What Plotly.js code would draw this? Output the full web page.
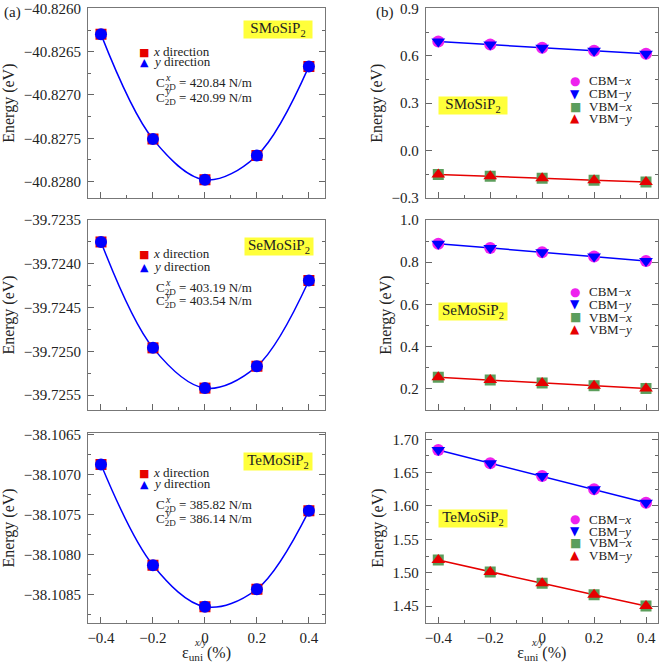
<!DOCTYPE html>
<html><head><meta charset="utf-8">
<script src="https://cdn.plot.ly/plotly-3.0.1.min.js"></script>
<style>html,body{margin:0;padding:0;background:#fff}</style>
</head><body><div id="chart" style="width:661px;height:663px"></div>
<script>
// ---------------- data ----------------
const strain = [-0.4, -0.2, 0, 0.2, 0.4];
const materials = ['SMoSiP<sub>2</sub>', 'SeMoSiP<sub>2</sub>', 'TeMoSiP<sub>2</sub>'];
// (a) total energy vs strain
const S_Ex  = [-40.82630, -40.82751, -40.82798, -40.82770, -40.82667];
const S_Ey  = [-40.82630, -40.82751, -40.82798, -40.82770, -40.82667];
const Se_Ex = [-39.72375, -39.72496, -39.72542, -39.72517, -39.72419];
const Se_Ey = [-39.72375, -39.72496, -39.72542, -39.72517, -39.72419];
const Te_Ex = [-38.10687, -38.10813, -38.10865, -38.10843, -38.10745];
const Te_Ey = [-38.10687, -38.10813, -38.10865, -38.10843, -38.10745];
const c2dX = ['420.84', '403.19', '385.82'];
const c2dY = ['420.99', '403.54', '386.14'];
// (b) band edges vs strain
const S_CBMx  = [0.690, 0.671, 0.651, 0.631, 0.612];
const S_CBMy  = [0.690, 0.671, 0.651, 0.631, 0.612];
const S_VBMx  = [-0.152, -0.162, -0.175, -0.187, -0.199];
const S_VBMy  = [-0.152, -0.162, -0.175, -0.187, -0.199];
const Se_CBMx = [0.888, 0.867, 0.847, 0.827, 0.806];
const Se_CBMy = [0.888, 0.867, 0.847, 0.827, 0.806];
const Se_VBMx = [0.255, 0.242, 0.228, 0.215, 0.202];
const Se_VBMy = [0.255, 0.242, 0.228, 0.215, 0.202];
const Te_CBMx = [1.684, 1.664, 1.645, 1.625, 1.605];
const Te_CBMy = [1.684, 1.664, 1.645, 1.625, 1.605];
const Te_VBMx = [1.519, 1.501, 1.484, 1.467, 1.450];
const Te_VBMy = [1.519, 1.501, 1.484, 1.467, 1.450];
const legendA = ['<i>x</i> direction', '<i>y</i> direction'];
const legendB = ['CBM\u2212<i>x</i>', 'CBM\u2212<i>y</i>', 'VBM\u2212<i>x</i>', 'VBM\u2212<i>y</i>'];

// ---------------- layout helpers ----------------
const FF = "'Liberation Serif'";
const W = 661, H = 663;
const px = x => x / W, py = y => 1 - y / H;
const colX = [[88, 325], [425.7, 658]];
const rows = [[8.3, 198], [220, 410], [433.3, 622.7]];
const xRanges = [[-0.45, 0.462], [-0.4485, 0.4462]];
const yRanges = [
  [[-40.82819, -40.825999], [-0.3, 0.9]],
  [[-39.72567, -39.723499], [0.1, 1.0]],
  [[-38.10885, -38.10648], [1.425, 1.709]]
];
const yTicks = [[[0.0005, 0.00025, '.4f'], [0.3, 0.15, '.1f']],
                [[0.0005, 0.00025, '.4f'], [0.2, 0.1, '.1f']],
                [[0.0005, 0.00025, '.4f'], [0.05, 0.025, '.2f']]];
const aData = [[S_Ex, S_Ey], [Se_Ex, Se_Ey], [Te_Ex, Te_Ey]];
const bData = [[S_CBMx, S_CBMy, S_VBMx, S_VBMy], [Se_CBMx, Se_CBMy, Se_VBMx, Se_VBMy], [Te_CBMx, Te_CBMy, Te_VBMx, Te_VBMy]];

const BLUE = '#0000ff', RED = '#e60000', MAG = '#ee22ee', GREEN = '#5c9e5c';
const traces = [];
const layout = {
  width: W, height: H, margin: {l: 0, r: 0, t: 0, b: 0},
  paper_bgcolor: '#fff', plot_bgcolor: '#fff', showlegend: false,
  font: {family: FF, size: 15, color: '#222'},
  annotations: []
};
const axName = n => (n > 1 ? String(n) : '');

for (let r = 0; r < 3; r++) {
  for (let c = 0; c < 2; c++) {
    const n = r * 2 + c + 1;
    const xa = 'x' + axName(n), ya = 'y' + axName(n);
    const tk = yTicks[r][c];
    layout['xaxis' + axName(n)] = {
      domain: [px(colX[c][0]), px(colX[c][1])], anchor: ya, range: xRanges[c],
      showgrid: false, zeroline: false, mirror: true, showline: true, linecolor: '#777', linewidth: 1,
      ticks: 'inside', ticklen: 6, tickcolor: '#666', tickwidth: 1, dtick: 0.2, tick0: 0,
      minor: {dtick: 0.1, ticks: 'inside', ticklen: 3, tickcolor: '#666'},
      showticklabels: r === 2, tickfont: {family: FF, size: 15, color: '#222'}, ticklabelstandoff: 1,
      title: r === 2 ? {text: '\u03b5<sub>uni</sub> (%)', font: {family: FF, size: 16, color: '#222'}, standoff: 0} : undefined
    };
    layout['yaxis' + axName(n)] = {
      domain: [py(rows[r][1]), py(rows[r][0])], anchor: xa, range: yRanges[r][c],
      showgrid: false, zeroline: false, mirror: 'ticks', showline: true, linecolor: '#777', linewidth: 1,
      ticks: 'inside', ticklen: 6, tickcolor: '#666', tickwidth: 1, dtick: tk[0], tick0: 0, tickformat: tk[2],
      minor: {dtick: tk[1], ticks: 'inside', ticklen: 3, tickcolor: '#666'},
      tickfont: {family: FF, size: 15, color: '#222'}, ticklabelstandoff: 3,
      title: {text: 'Energy (eV)', font: {family: FF, size: 16, color: '#222'}, standoff: c === 0 ? 6 : 4}
    };
    if (c === 0) {
      const [ex, ey] = aData[r];
      traces.push({x: strain, y: ex, xaxis: xa, yaxis: ya, mode: 'lines', line: {shape: 'spline', smoothing: 1, color: BLUE, width: 1.5}, hoverinfo: 'skip'});
      traces.push({x: strain, y: ex, xaxis: xa, yaxis: ya, mode: 'markers', name: legendA[0], marker: {symbol: 'square', size: 11, color: RED}});
      traces.push({x: strain, y: ey, xaxis: xa, yaxis: ya, mode: 'markers', name: legendA[1], marker: {symbol: 'circle', size: 12, color: BLUE}});
    } else {
      const [cx, cy, vx, vy] = bData[r];
      traces.push({x: strain, y: cx, xaxis: xa, yaxis: ya, mode: 'lines', line: {color: BLUE, width: 1.5}, hoverinfo: 'skip'});
      traces.push({x: strain, y: vx, xaxis: xa, yaxis: ya, mode: 'lines', line: {color: RED, width: 1.5}, hoverinfo: 'skip'});
      traces.push({x: strain, y: cx, xaxis: xa, yaxis: ya, mode: 'markers', name: legendB[0], marker: {symbol: 'circle', size: 12, color: MAG}});
      traces.push({x: strain, y: cy, xaxis: xa, yaxis: ya, mode: 'markers', name: legendB[1], marker: {symbol: 'triangle-down', size: 12, color: BLUE}});
      traces.push({x: strain, y: vx, xaxis: xa, yaxis: ya, mode: 'markers', name: legendB[2], marker: {symbol: 'square', size: 11, color: GREEN}});
      traces.push({x: strain, y: vy, xaxis: xa, yaxis: ya, mode: 'markers', name: legendB[3], marker: {symbol: 'triangle-up', size: 12, color: RED}});
    }
  }
}

// --------- annotations (labels, legends, material tags) ----------
const A = layout.annotations;
function ann(x, y, text, opts) {
  A.push(Object.assign({xref: 'paper', yref: 'paper', x: px(x), y: py(y), text: text, showarrow: false,
    xanchor: 'left', yanchor: 'middle', font: {family: FF, size: 13, color: '#222'}}, opts || {}));
}
ann(2, 12, '(a)', {font: {family: FF, size: 15, color: '#222'}});
ann(374, 12, '(b)', {font: {family: FF, size: 15, color: '#222'}});

const tagA = [[278, 30], [279, 246], [278, 461]];
const tagB = [[473, 105], [473, 311], [473, 518]];
const legA = [[51.7, 61.7, 81, 96], [254, 266, 286, 299.3], [472.3, 483.3, 503.3, 517.7]];
const legB = [[80.7, 94, 106.7, 118.3], [291.7, 304.3, 317.3, 329], [519, 531, 542.7, 555]];
const tagStyle = {xanchor: 'center', bgcolor: '#ffff3a', width: 68, height: 17, borderpad: 0, font: {family: FF, size: 15, color: '#222'}};
const symB = [['\u25cf', MAG], ['\u25bc', BLUE], ['\u25a0', GREEN], ['\u25b2', RED]];
for (let r = 0; r < 3; r++) {
  ann(tagA[r][0], tagA[r][1], materials[r], tagStyle);
  ann(tagB[r][0], tagB[r][1], materials[r], tagStyle);
  const L = legA[r];
  ann(144, L[0] + 1, '\u25a0', {xanchor: 'center', font: {family: 'DejaVu Sans', size: 11, color: RED}});
  ann(144, L[1] + 1, '\u25b2', {xanchor: 'center', font: {family: 'DejaVu Sans', size: 11, color: BLUE}});
  ann(151, L[0], legendA[0]);
  ann(151, L[1], legendA[1]);
  ann(154, L[2] + 2, 'C<sub>2D</sub> = ' + c2dX[r] + ' N/m');
  ann(154, L[3] + 2, 'C<sub>2D</sub> = ' + c2dY[r] + ' N/m');
  ann(163, L[2] - 4, '<i>x</i>', {font: {family: FF, size: 10, color: '#222'}});
  ann(163, L[3] - 4, '<i>y</i>', {font: {family: FF, size: 10, color: '#222'}});
  const M = legB[r];
  for (let k = 0; k < 4; k++) {
    ann(575, M[k], symB[k][0], {xanchor: 'center', font: {family: 'DejaVu Sans', size: 12, color: symB[k][1]}});
    ann(587, M[k], legendB[k]);
  }
}
// superscript of the strain symbol on the bottom x-axis titles
ann(201, 642, '<i>x/y</i>', {xanchor: 'center', font: {family: FF, size: 10, color: '#222'}});
ann(537, 642, '<i>x/y</i>', {xanchor: 'center', font: {family: FF, size: 10, color: '#222'}});

Plotly.newPlot('chart', traces, layout, {staticPlot: true, displayModeBar: false});
</script>
</body></html>
